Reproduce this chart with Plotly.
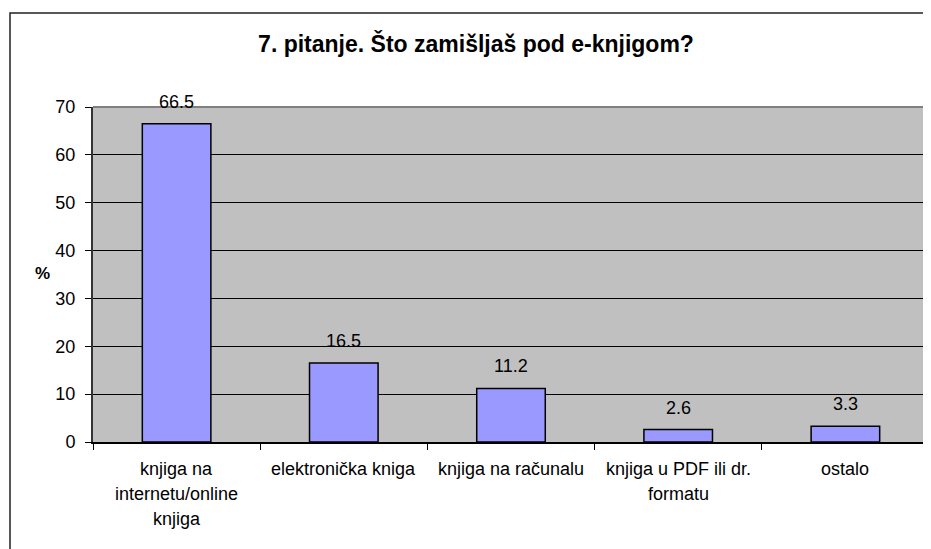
import plotly.graph_objects as go

# survey answers, percentages
categories = ["c1", "c2", "c3", "c4", "c5"]
labels = [
    ["knjiga na", "internetu/online", "knjiga"],
    ["elektronička kniga"],
    ["knjiga na računalu"],
    ["knjiga u PDF ili dr.", "formatu"],
    ["ostalo"],
]
values = [66.5, 16.5, 11.2, 2.6, 3.3]

title = "7. pitanje. Što zamišljaš pod e-knjigom?"
y_title = "%"
y_ticks = [0, 10, 20, 30, 40, 50, 60, 70]

FONT = "Liberation Sans, Arial, sans-serif"
BAR_COLOR = "#9999FF"
PLOT_BG = "#C0C0C0"

# page body has an 8px margin, so the figure is shrunk and coordinates
# below are given in window pixels and converted
OFF = 8
W, H = 931 - OFF, 549 - OFF
PLOT_L, PLOT_R, PLOT_T, PLOT_B = 93, 929, 107, 442  # window px
L, T = PLOT_L - OFF, PLOT_T - OFF
R, B = W - (PLOT_R - OFF), H - (PLOT_B - OFF)
pw, ph = PLOT_R - PLOT_L, PLOT_B - PLOT_T


def px_x(x):
    return (x - PLOT_L) / pw


def px_y(y):
    return (PLOT_B - y) / ph


fig = go.Figure()

fig.add_trace(go.Bar(
    x=categories, y=values,
    marker=dict(color=BAR_COLOR, line=dict(color="black", width=1.5)),
    hoverinfo="skip",
))

# data labels above bars
for c, v in zip(categories, values):
    fig.add_annotation(
        x=c, y=v, xref="x", yref="y",
        text=f"{v:.1f}", showarrow=False,
        xanchor="center", yanchor="middle", yshift=22,
        font=dict(family=FONT, size=18, color="black"),
    )

# category labels, one annotation per line to get Excel-like spacing
for c, lines in zip(categories, labels):
    for i, line in enumerate(lines):
        fig.add_annotation(
            x=c, y=0, xref="x", yref="paper",
            text=line, showarrow=False,
            xanchor="center", yanchor="middle", yshift=-(27 + 25 * i),
            font=dict(family=FONT, size=18, color="black"),
        )

# "%" axis label
fig.add_annotation(
    x=px_x(42), y=px_y(273), xref="paper", yref="paper",
    text=f"<b>{y_title}</b>", showarrow=False,
    xanchor="center", yanchor="middle",
    font=dict(family=FONT, size=17, color="black"),
)

# outer chart frame (only left/top edges visible)
fig.add_shape(type="rect", xref="paper", yref="paper",
              x0=px_x(10), y0=px_y(700), x1=px_x(1100), y1=px_y(13),
              line=dict(color="#222", width=1.5), layer="below")

# plot area border top/right
fig.add_shape(type="line", xref="paper", yref="paper",
              x0=0, x1=1, y0=1, y1=1, line=dict(color="#808080", width=2))
fig.add_shape(type="line", xref="paper", yref="paper",
              x0=1, x1=1, y0=0, y1=1, line=dict(color="#808080", width=2))

fig.update_layout(
    width=W, height=H,
    margin=dict(l=L, r=R, t=T, b=B, autoexpand=False),
    paper_bgcolor="white",
    plot_bgcolor=PLOT_BG,
    bargap=0.59,
    showlegend=False,
    title=dict(
        text=f"<b>{title}</b>",
        x=(476 - OFF) / W, xanchor="center",
        y=1 - (44 - OFF) / H, yanchor="middle",
        font=dict(family=FONT, size=23, color="black"),
    ),
    font=dict(family=FONT, size=18, color="black"),
)

fig.update_xaxes(
    showticklabels=False,
    ticks="outside", tickson="boundaries", ticklen=6, tickcolor="black",
    showline=True, linecolor="black", linewidth=1.5,
    showgrid=False, zeroline=False,
)
fig.update_yaxes(
    range=[0, 70], tickvals=y_ticks,
    ticks="outside", ticklen=6, tickcolor="black",
    ticklabelstandoff=6,
    tickfont=dict(family=FONT, size=18, color="black"),
    showline=True, linecolor="#333", linewidth=2,
    showgrid=True, gridcolor="black", gridwidth=1,
    zeroline=False,
)

fig.write_html("out.html")
